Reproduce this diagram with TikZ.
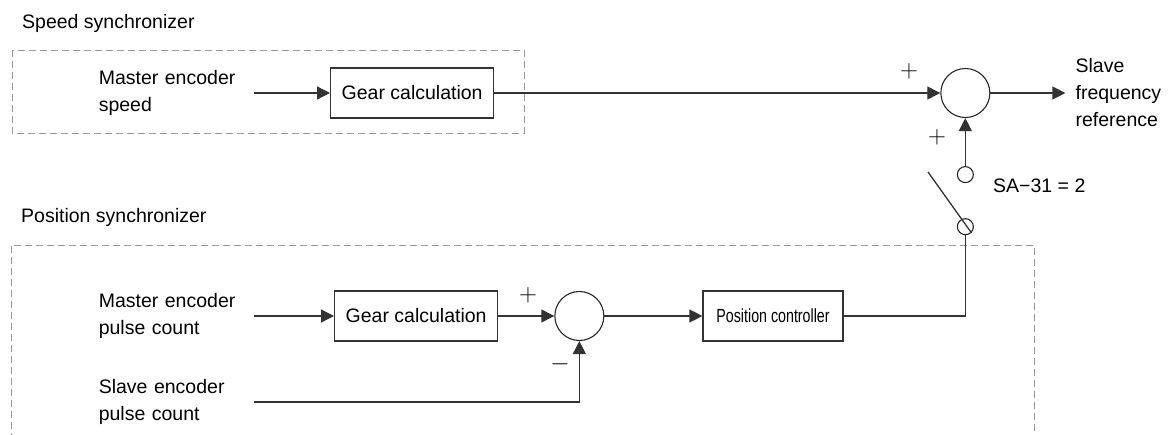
\documentclass[tikz,border=0pt]{standalone}
\usepackage{fontspec}
\setmainfont{Liberation Sans}
\usetikzlibrary{arrows.meta,positioning}

\begin{document}
\begin{tikzpicture}[
    x=1pt,y=-1pt,
    font=\fontsize{19.5}{27}\selectfont,
    block/.style={rectangle,draw=black!80,line width=1.3pt,minimum width=163pt,minimum height=50pt,inner sep=0pt},
    sumpt/.style={circle,draw=black!85,line width=1.1pt,minimum size=49pt,inner sep=0pt},
    contact/.style={circle,draw=black!85,line width=1.1pt,minimum size=16pt,inner sep=0pt},
    lbl/.style={text width=155pt,align=left,inner sep=0pt,anchor=east},
    sign/.style={inner sep=0pt,font=\fontsize{27}{27}\selectfont},
    wire/.style={line width=1.3pt,draw=black!80},
    arrow/.style={wire,-{Triangle[length=13pt,width=13pt]}},
    frame/.style={draw=black!40,line width=1pt,dash pattern=on 7pt off 4pt}
]
    \useasboundingbox (0,0) rectangle (1168,434);

    % Speed synchronizer
    \node[anchor=west,inner sep=0pt] (ttl1) at (22,23) {Speed synchronizer};
    \draw[frame] (12,50) rectangle (524,133);

    \node[lbl] (min1) at (254,93) {Master encoder\\speed};
    \node[block,right=76pt of min1] (gear1) {Gear calculation};
    \node[sumpt,right=446pt of gear1] (sum1) {};
    \node[align=left,inner sep=0pt,right=85pt of sum1] (out) {Slave\\frequency\\reference};

    \node[contact,below=48pt of sum1] (c1) {};
    \node[contact,below=35pt of c1] (c2) {};
    \coordinate (blade) at (928,172);
    \node[anchor=west,inner sep=0pt] (sa) at (993,186) {SA−31 = 2};

    \node[sign] (p1) at (909,71) {$+$};
    \node[sign] (p2) at (937,137) {$+$};

    \draw[arrow] (min1.east) -- (gear1.west);
    \draw[arrow] (gear1) -- (sum1);
    \draw[arrow,shorten >=10pt] (sum1) -- (out);
    \draw[arrow] (c1) -- (sum1);
    \draw[wire] (blade) -- (c2.south east);

    % Position synchronizer
    \node[anchor=west,inner sep=0pt] (ttl2) at (21,217) {Position synchronizer};
    \draw[frame] (11,440) -- (11,245) -- (1034,245) -- (1034,440);

    \node[lbl] (min2) at (254,316) {Master encoder\\pulse count};
    \node[block,right=80pt of min2] (gear2) {Gear calculation};
    \node[sumpt,right=56pt of gear2] (sum2) {};
    \node[block,minimum width=140pt,font=\fontsize{19}{20}\selectfont,right=98pt of sum2] (pos) {\scalebox{0.75}[1]{Position controller}};
    \node[lbl] (sin) at (254,402) {Slave encoder\\pulse count};

    \node[sign] (p3) at (528,295) {$+$};
    \node[sign] (m1) at (560,364) {$-$};

    \draw[arrow] (min2.east) -- (gear2.west);
    \draw[arrow] (gear2) -- (sum2);
    \draw[arrow] (sum2) -- (pos);
    \draw[arrow] (sin.east) -| (sum2.south);
    \draw[wire] (pos.east) -| (c2.south);
\end{tikzpicture}
\end{document}
